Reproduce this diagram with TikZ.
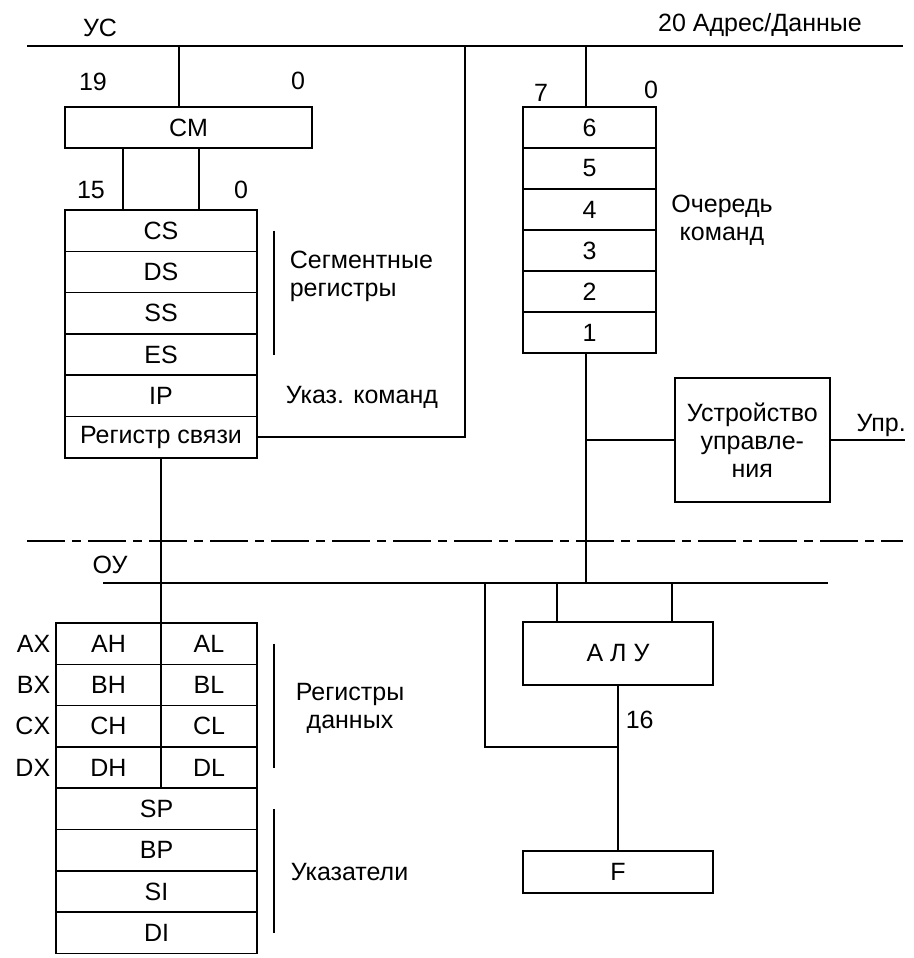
\documentclass[tikz,border=0pt]{standalone}
\usepackage{fontspec}
\setmainfont{Liberation Sans}
\usepackage{tikz}
\usetikzlibrary{positioning, calc}
\newcommand{\diagfont}{\fontsize{25}{28}\selectfont}
\tikzset{
  regbox/.style={rectangle, draw, line width=1.6pt, minimum width=#1,
              minimum height=41.3pt, inner sep=0pt, outer sep=0pt},
  regbox/.default=192pt,
  queuebox/.style={regbox=133pt, minimum height=41pt},
  bus/.style={line width=1.6pt},
  bracket/.style={line width=1.6pt},
  sepline/.style={line width=1.6pt, dash pattern=on 38pt off 7pt on 9pt off 7pt},
}

\begin{document}
\begin{tikzpicture}[x=1pt, y=-1pt, every node/.style={font=\diagfont}, line width=1.6pt]
  \useasboundingbox (0,0) rectangle (913,958);

  \coordinate (usL) at (27,46);
  \coordinate (usR) at (903,46);
  \coordinate (linktap) at (465,46);
  \coordinate (sepL) at (27,541);
  \coordinate (sepR) at (903,541);
  \coordinate (ouL) at (103,583);
  \coordinate (ouR) at (828,583);
  \coordinate (ouTap) at (485,583);

  \node (us) at (100,28) {УС};
  \node (addr) at (760,25) {20 Адрес/Данные};

  % сумматор и сегментные регистры
  \node[regbox=247pt, minimum height=41pt, anchor=north west] (cm) at (65,107) {CM};
  \node (cm19) at (93,82) {19};
  \node (cm0) at (298,81) {0};

  \node[regbox, anchor=north west] (cs) at (65,210) {CS};
  \node[regbox, below=0pt of cs] (ds) {DS};
  \node[regbox, below=0pt of ds] (ss) {SS};
  \node[regbox, below=0pt of ss] (es) {ES};
  \node[regbox, below=0pt of es] (ip) {IP};
  \node[regbox, below=0pt of ip] (link) {Регистр связи};
  \node (seg15) at (91,190) {15};
  \node (seg0) at (241,190) {0};

  \node[anchor=west, align=left, inner sep=0pt] (segtxt) at (289,276) {Сегментные\\регистры};
  \node[anchor=west, inner sep=0pt] (iptxt) at (285,397) {Указ. команд};

  % очередь команд
  \node[queuebox, anchor=north west] (q6) at (523,107) {6};
  \node[queuebox, below=0pt of q6] (q5) {5};
  \node[queuebox, below=0pt of q5] (q4) {4};
  \node[queuebox, below=0pt of q4] (q3) {3};
  \node[queuebox, below=0pt of q3] (q2) {2};
  \node[queuebox, below=0pt of q2] (q1) {1};
  \node (q7) at (541,93) {7};
  \node (q0) at (651,90) {0};
  \node[align=center, inner sep=0pt] (qtxt) at (722,220) {Очередь\\команд};

  \node[rectangle, draw, line width=1.6pt, minimum width=155pt, minimum height=124pt,
        inner sep=0pt, align=center, anchor=north west] (ctl) at (674,377)
        {Устройство\\управле-\\ния};
  \path (ctl.east) ++(74,0) coordinate (uprEnd);
  \node[anchor=base east, inner sep=0pt] (upr) at ([yshift=8pt, xshift=2pt]uprEnd) {Упр.};

  % операционное устройство
  \node (ou) at (110,565) {ОУ};

  \node[regbox=105pt, anchor=north west] (ah) at (56,623) {AH};
  \node[regbox=96pt, right=0pt of ah] (al) {AL};
  \node[regbox=105pt, below=0pt of ah] (bh) {BH};
  \node[regbox=96pt, right=0pt of bh] (bl) {BL};
  \node[regbox=105pt, below=0pt of bh] (ch) {CH};
  \node[regbox=96pt, right=0pt of ch] (cl) {CL};
  \node[regbox=105pt, below=0pt of ch] (dh) {DH};
  \node[regbox=96pt, right=0pt of dh] (dl) {DL};
  \node[regbox=201pt, below=0pt of dh.south west, anchor=north west] (sp) {SP};
  \node[regbox=201pt, below=0pt of sp] (bp) {BP};
  \node[regbox=201pt, below=0pt of bp] (si) {SI};
  \node[regbox=201pt, below=0pt of si] (di) {DI};

  \node[anchor=east, inner sep=0pt] (ax) at ([xshift=-5pt]ah.west) {AX};
  \node[anchor=east, inner sep=0pt] (bx) at ([xshift=-5pt]bh.west) {BX};
  \node[anchor=east, inner sep=0pt] (cx) at ([xshift=-5pt]ch.west) {CX};
  \node[anchor=east, inner sep=0pt] (dx) at ([xshift=-5pt]dh.west) {DX};

  \node[align=center, inner sep=0pt] (datatxt) at (350,708) {Регистры\\данных};
  \node[anchor=west, inner sep=0pt] (ptrtxt) at (290,872) {Указатели};

  \node[regbox=190pt, minimum height=63pt, anchor=north west] (alu) at (523,622) {А Л У};
  \node[regbox=190pt, minimum height=42pt, anchor=north west] (f) at (523,851) {F};
  \path (alu.south) ++(0,62) coordinate (j16);
  \node[anchor=west, inner sep=0pt] (w16) at (625,720) {16};

  % шины
  \draw[bus] (usL) -- (usR);
  \draw[bus] (ouL) -- (ouR);
  \draw[sepline] (sepL) -- (sepR);

  \coordinate (cmtap) at ([xshift=-9.5pt]cm.north);
  \draw (cmtap |- usL) -- (cmtap);
  \coordinate (cstapL) at ([xshift=-38pt]cs.north);
  \coordinate (cstapR) at ([xshift=38pt]cs.north);
  \draw (cstapL |- cm.south) -- (cstapL);
  \draw (cstapR |- cm.south) -- (cstapR);
  \draw (link.east) -| (linktap);
  \draw (link.south) -- (ah.north east);

  \coordinate (qtap) at ([xshift=-3.5pt]q6.north);
  \draw (qtap |- usL) -- (qtap);
  \coordinate (qbot) at ([xshift=-3.5pt]q1.south);
  \draw (qbot) -- (qbot |- ouL);
  \draw (qbot |- ctl.west) -- (ctl.west);
  \draw (ctl.east) -- (uprEnd);

  \coordinate (alutapL) at ([xshift=-61pt]alu.north);
  \coordinate (alutapR) at ([xshift=54pt]alu.north);
  \draw (alutapL |- ouL) -- (alutapL);
  \draw (alutapR |- ouL) -- (alutapR);
  \draw (alu.south) -- (f.north);
  \draw (ouTap) |- (j16);

  \draw[bracket] ([xshift=17pt]cs.east) -- ([xshift=17pt]es.east);
  \draw[bracket] ([xshift=17pt]al.east) -- ([xshift=17pt]dl.east);
  \draw[bracket] ([xshift=17pt]sp.east) -- ([xshift=17pt]di.east);
\end{tikzpicture}
\end{document}
